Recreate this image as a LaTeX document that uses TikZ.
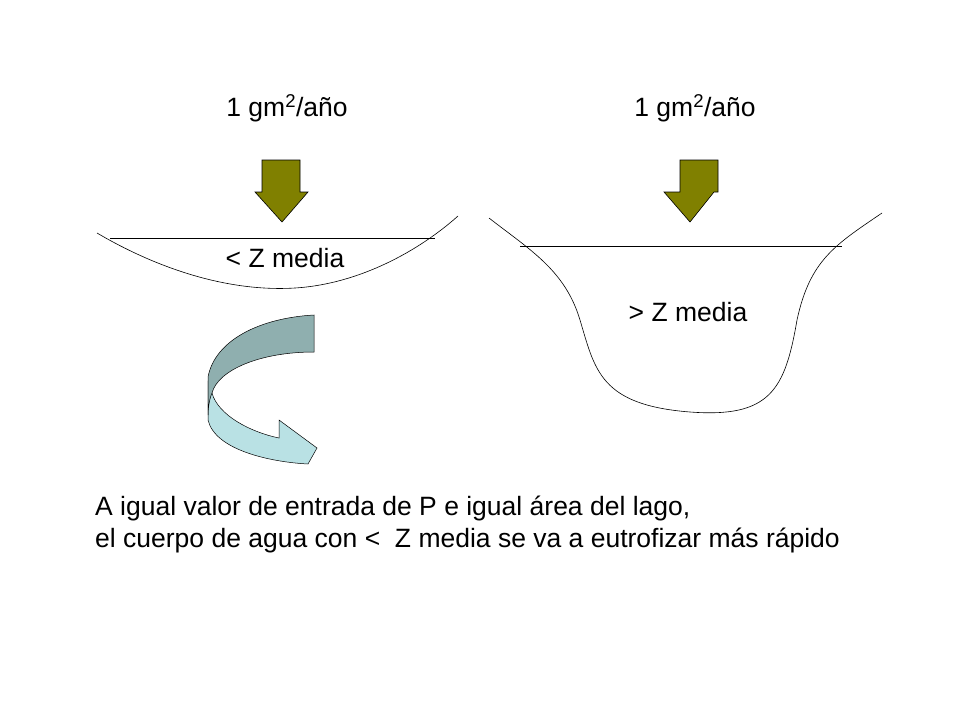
\documentclass[tikz,border=0pt]{standalone}
\usepackage{fontspec}
\setmainfont{Liberation Sans}
\begin{document}
\begin{tikzpicture}[x=1pt,y=-1pt,
  lbl/.style={font=\fontsize{26.5}{30}\selectfont,inner sep=0pt},
  lake/.style={draw=black,line width=0.6pt}]
\useasboundingbox (0,0) rectangle (960,720);
\definecolor{olive2}{RGB}{128,128,0}
\definecolor{darkband}{RGB}{143,175,175}
\definecolor{lightband}{RGB}{185,225,228}
% titles
\node[lbl] (t1) at (287,108) {1 gm\textsuperscript{2}/año};
\node[lbl] (t2) at (695,108) {1 gm\textsuperscript{2}/año};
% arrows down
\draw[fill=olive2,draw=black,line width=0.6pt] (262,160)--(300,160)--(300,192)--(308,192)--(282,222)--(255,192)--(262,192)--cycle;
\draw[fill=olive2,draw=black,line width=0.6pt] (680,160)--(718,160)--(718,192)--(714,192)--(690,222)--(664,192)--(680,192)--cycle;
% left lake
\draw[lake] (97,233) .. controls (160,270) and (230,292) .. (295,288) .. controls (360,284) and (420,250) .. (458,216);
\draw[lake] (110,238) -- (435,238);
\node[lbl] (zl) at (285,258) {< Z media};
% right lake
\draw[lake] (489,218) .. controls (530,250) and (565,270) .. (580,320) .. controls (595,370) and (600,405) .. (690,412) .. controls (770,418) and (785,390) .. (797,320) .. controls (810,260) and (835,245) .. (882,213);
\draw[lake] (520,246) -- (842,246);
\node[lbl] (zr) at (688,312) {> Z media};
% curved ribbon arrow
\draw[fill=lightband,draw=black,line width=0.5pt] (208,382) -- (208,420) .. controls (215,450) and (270,462) .. (308,464) -- (317,448) -- (279,420) -- (279,438) .. controls (250,432) and (218,415) .. (212,393) -- cycle;
\draw[fill=darkband,draw=black,line width=0.5pt] (314,315) -- (314,352) .. controls (260,352) and (218,370) .. (212,393) .. controls (209,400) and (208,410) .. (208,415) -- (208,377) .. controls (215,340) and (260,318) .. (314,315) -- cycle;
% bottom text
\node[lbl,anchor=west] (b1) at (95,508) {A igual valor de entrada de P e igual área del lago,};
\node[lbl,anchor=west] (b2) at (95,540) {el cuerpo de agua con <\ \ Z media se va a eutrofizar más rápido};
\end{tikzpicture}
\end{document}
